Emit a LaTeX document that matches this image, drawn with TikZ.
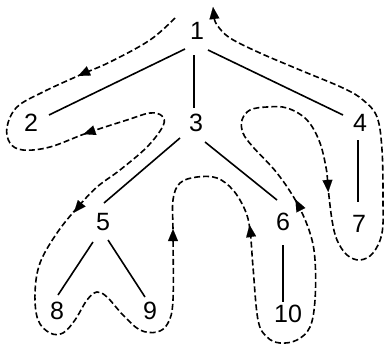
\documentclass[tikz,border=0pt]{standalone}
\usepackage{fontspec}
\setmainfont{Liberation Sans}
\usetikzlibrary{calc,arrows.meta}
\begin{document}
\begin{tikzpicture}[x=1pt,y=-1pt,
  lbl/.style={inner sep=0pt,font=\fontsize{25}{29}\selectfont},
  edge/.style={line width=1.6pt},
  tour/.style={line width=1.6pt,dash pattern=on 6pt off 3pt},
  tourtip/.style={line width=0.1pt,solid,-{Triangle[length=12pt,width=10pt]}}]
\useasboundingbox (0,0) rectangle (387,345);
\node[lbl] (n1) at (197,31) {1};
\node[lbl] (n2) at (31,123) {2};
\node[lbl] (n3) at (196,123) {3};
\node[lbl] (n4) at (360,123) {4};
\node[lbl] (n5) at (103,222) {5};
\node[lbl] (n6) at (283,222) {6};
\node[lbl] (n7) at (359,224) {7};
\node[lbl] (n8) at (57,311) {8};
\node[lbl] (n9) at (150,311) {9};
\node[lbl] (n10) at (288,314) {10};
\draw[edge] ($(n1)+(-12,18)$) -- ($(n2)+(18,-8)$);
\draw[edge] ($(n1)+(-3,24)$) -- ($(n3)+(-2,-15)$);
\draw[edge] ($(n1)+(11,19)$) -- ($(n4)+(-17,-8)$);
\draw[edge] ($(n3)+(-16,15)$) -- ($(n5)+(1,-19)$);
\draw[edge] ($(n3)+(9,19)$) -- ($(n6)+(-6,-22)$);
\draw[edge] ($(n4)+(-2,17)$) -- ($(n7)+(-1,-22)$);
\draw[edge] ($(n5)+(-10,20)$) -- ($(n8)+(1,-16)$);
\draw[edge] ($(n5)+(5,18)$) -- ($(n9)+(-5,-14)$);
\draw[edge] ($(n6)+(0,23)$) -- ($(n10)+(-5,-12)$);
\draw[tour] plot[smooth,tension=0.6] coordinates {
 (175,18) (150,40) (110,62) (80,75) (43,92) (17,107) (7,127) (10,143)
 (23,150) (50,147) (87,133) (127,120) (150,113) (162,116) (163,126)
 (147,147) (120,170) (97,187) (77,208) (57,233) (40,263) (35,293)
 (38,320) (50,333) (63,333) (75,320) (87,300) (97,292) (107,297)
 (123,315) (140,330) (157,332) (168,323) (173,300) (173,233) (173,200)
 (180,183) (197,177) (217,178) (233,190) (245,210) (250,230) (253,267)
 (258,320) (267,337) (280,343) (297,340) (310,327) (315,300) (315,260)
 (310,233) (297,203) (277,173) (253,147) (243,133) (242,120) (250,110)
 (267,107) (287,108) (307,120) (320,143) (327,173) (328,187) (332,220)
 (337,240) (347,255) (360,260) (373,253) (382,233) (383,200) (382,150)
 (377,117) (363,100) (343,88) (300,70) (260,53) (230,38) (217,25) (214,17)};
\coordinate (t0a) at (214.2,17); \coordinate (t0b) at (213,7);
\coordinate (t1a) at (85.5,72.5); \coordinate (t1b) at (78,76);
\coordinate (t2a) at (91,131.6); \coordinate (t2b) at (83.5,134.2);
\coordinate (t3a) at (79,206.5); \coordinate (t3b) at (74,212.5);
\coordinate (t4a) at (173,237); \coordinate (t4b) at (173,229);
\coordinate (t5a) at (250.6,233); \coordinate (t5b) at (249.5,225);
\coordinate (t6a) at (299,206.5); \coordinate (t6b) at (295.5,199.5);
\coordinate (t7a) at (327.7,184); \coordinate (t7b) at (328.2,192);
\foreach \i in {0,...,7} { \draw[tourtip] (t\i a) -- (t\i b); }
\end{tikzpicture}
\end{document}
